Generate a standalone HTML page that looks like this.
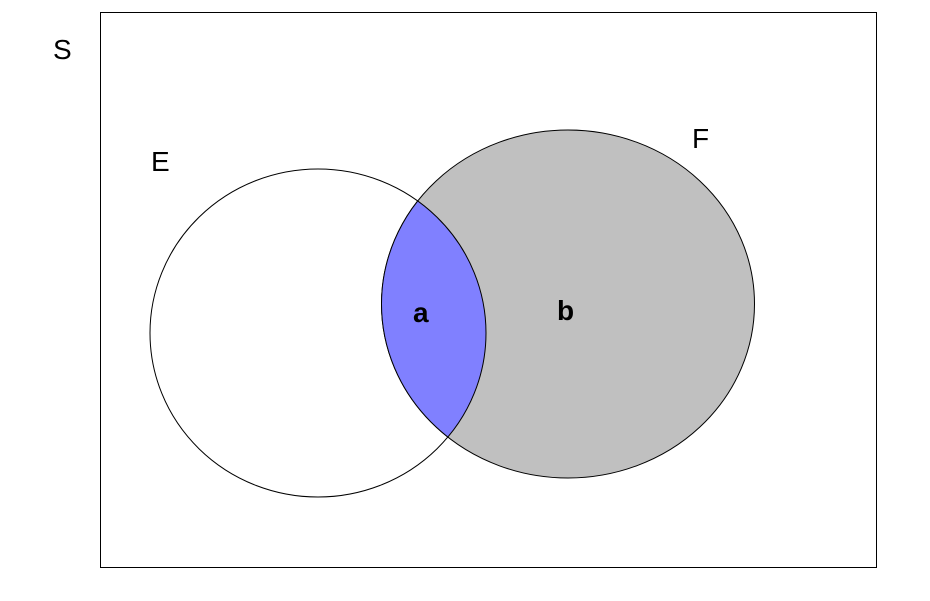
<!DOCTYPE html>
<html><head><style>body{margin:0;background:#fff}</style></head>
<body>
<svg width="930" height="596" viewBox="0 0 930 596" xmlns="http://www.w3.org/2000/svg">
<defs>
<clipPath id="ce"><ellipse cx="318" cy="333" rx="168" ry="164"/></clipPath>
</defs>
<rect x="100.5" y="12.5" width="776" height="555" fill="#fff" stroke="#000" stroke-width="1"/>
<ellipse cx="568" cy="304" rx="186.5" ry="174" fill="#c0c0c0" stroke="#000" stroke-width="1"/>
<ellipse cx="568" cy="304" rx="186.5" ry="174" fill="#8080ff" clip-path="url(#ce)"/>
<ellipse cx="318" cy="333" rx="168" ry="164" fill="none" stroke="#000" stroke-width="1"/>
<ellipse cx="568" cy="304" rx="186.5" ry="174" fill="none" stroke="#000" stroke-width="1" clip-path="url(#ce)"/>
<g font-family="Liberation Sans, sans-serif" font-size="28" fill="#000">
<text x="53" y="59">S</text>
<text x="151" y="171">E</text>
<text x="692" y="148">F</text>
<text x="413" y="322" font-weight="bold">a</text>
<text x="557" y="320" font-weight="bold">b</text>
</g>
</svg>
</body></html>
